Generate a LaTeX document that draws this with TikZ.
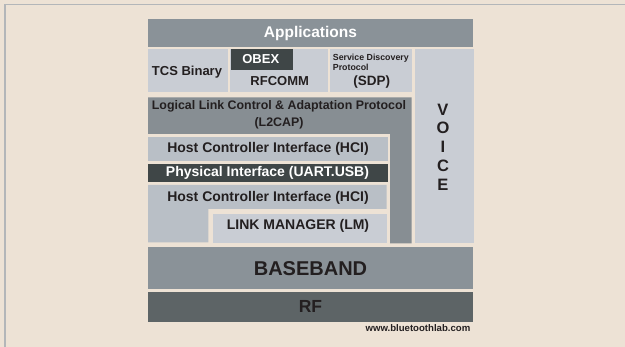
\documentclass[tikz,border=0pt]{standalone}
\usepackage{fontspec}
\setmainfont{Liberation Sans}
\definecolor{bg}{HTML}{EDE2D5}
\definecolor{frameline}{HTML}{B3B6B9}
\definecolor{lightbox}{HTML}{C9CDD4}
\definecolor{hcibox}{HTML}{B9BFC6}
\definecolor{midgray}{HTML}{8A9298}
\definecolor{lgray}{HTML}{878E93}
\definecolor{darkbox}{HTML}{3F4647}
\definecolor{rfgray}{HTML}{5D6466}
\definecolor{txt}{HTML}{231F20}
\tikzset{
  blk/.style={rectangle, inner sep=0pt, outer sep=0pt, anchor=north west},
  lbl/.style={inner sep=0pt, font=\bfseries, text=txt},
  wlbl/.style={inner sep=0pt, font=\bfseries, text=white},
}
\newcommand{\fsz}[1]{\fontsize{#1}{#1}\selectfont}
\begin{document}
\begin{tikzpicture}[x=1pt,y=-1pt]
\fill[bg] (0,0) rectangle (625,347);
\useasboundingbox (0,0) rectangle (625,347);
\draw[frameline, line width=1.3pt] (5,347) -- (5,4.6) -- (625,4.6);

% Applications
\node[blk, fill=midgray, minimum width=325pt, minimum height=27.5pt] (apps) at (148,19.3) {};
\node[wlbl, font=\bfseries\fsz{15.5}] at (apps.center) {Applications};

% row 2
\node[blk, fill=lightbox, minimum width=79.5pt, minimum height=43pt] (tcs) at (148,49.3) {};
\node[lbl, font=\bfseries\fsz{13}] at (187,71.7) {TCS Binary};
\node[blk, fill=lightbox, minimum width=97.7pt, minimum height=43pt] (rfc) at (230,49.3) {};
\node[blk, fill=darkbox, minimum width=62pt, minimum height=20.7pt] (obex) at (230.7,49.3) {};
\node[wlbl, font=\bfseries\fsz{13}] at (260.8,59.5) {OBEX};
\node[lbl, font=\bfseries\fsz{13}] at (279.7,80.7) {RFCOMM};
\node[blk, fill=lightbox, minimum width=81.7pt, minimum height=43pt] (sdp) at (330,49.3) {};
\node[lbl, font=\bfseries\fsz{8.8}, anchor=west] at (332.7,58.3) {Service Discovery};
\node[lbl, font=\bfseries\fsz{8.8}, anchor=west] at (332.7,67.5) {Protocol};
\node[lbl, font=\bfseries\fsz{13.5}] at (371.7,81.7) {(SDP)};

% VOICE
\node[blk, fill=lightbox, minimum width=59pt, minimum height=193.4pt] (voice) at (415,49.3) {};
\foreach \ch/\yy in {V/109.5,O/128,I/147,C/166,E/185}
  \node[lbl, font=\bfseries\fsz{16.5}] at (443,\yy) {\ch};

% L2CAP (L shape)
\fill[lgray] (148,97.3) -- (411.7,97.3) -- (411.7,243.3) -- (390,243.3) -- (390,134) -- (148,134) -- cycle;
\node[lbl, font=\bfseries\fsz{12.4}] (l2a) at (279,106.7) {Logical Link Control \& Adaptation Protocol};
\node[lbl, font=\bfseries\fsz{12.4}] (l2b) at (279,123) {(L2CAP)};

% HCI 1
\node[blk, fill=hcibox, minimum width=240.3pt, minimum height=23.4pt] (hci1) at (148,137.3) {};
\node[lbl, font=\bfseries\fsz{14}] at (268,149) {Host Controller Interface (HCI)};

% Physical interface
\node[blk, fill=darkbox, minimum width=240.3pt, minimum height=17.7pt] (phy) at (148,164) {};
\node[wlbl, font=\bfseries\fsz{14}] at (267.5,172.8) {Physical Interface (UART.USB)};

% HCI 2 (L shape)
\fill[hcibox] (148,185) -- (386.7,185) -- (386.7,209) -- (208.3,209) -- (208.3,242.5) -- (148,242.5) -- cycle;
\node[lbl, font=\bfseries\fsz{14}] at (268,198.3) {Host Controller Interface (HCI)};

% Link manager
\node[blk, fill=lightbox, minimum width=174pt, minimum height=28.7pt] (lm) at (212.7,214) {};
\node[lbl, font=\bfseries\fsz{14}] at (298,226.3) {LINK MANAGER (LM)};

% Baseband
\node[blk, fill=midgray, minimum width=325pt, minimum height=42pt] (bb) at (148,247.3) {};
\node[lbl, font=\bfseries\fsz{20}] at (bb.center) {BASEBAND};

% RF
\node[blk, fill=rfgray, minimum width=325pt, minimum height=30pt] (rf) at (148,291.7) {};
\node[lbl, font=\bfseries\fsz{17.5}] at (rf.center) {RF};

\node[lbl, font=\bfseries\fsz{9.6}, anchor=east] (www) at (470.5,328.5) {www.bluetoothlab.com};
\end{tikzpicture}
\end{document}
